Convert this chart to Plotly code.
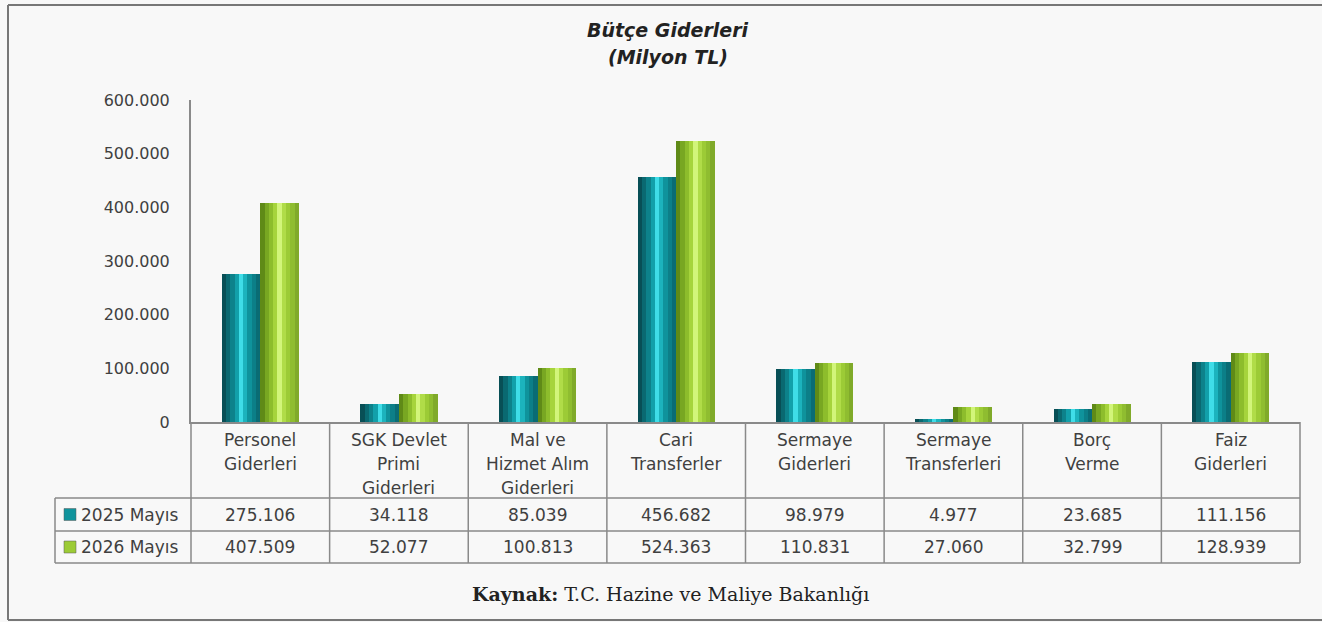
import plotly.graph_objects as go

categories = ["Personel<br>Giderleri", "SGK Devlet<br>Primi<br>Giderleri", "Mal ve<br>Hizmet Alım<br>Giderleri",
              "Cari<br>Transferler", "Sermaye<br>Giderleri", "Sermaye<br>Transferleri", "Borç<br>Verme", "Faiz<br>Giderleri"]
series_names = ["2025 Mayıs", "2026 Mayıs"]
values_2025 = [275106, 34118, 85039, 456682, 98979, 4977, 23685, 111156]
values_2026 = [407509, 52077, 100813, 524363, 110831, 27060, 32799, 128939]
y_ticks = [0, 100000, 200000, 300000, 400000, 500000, 600000]

W, H = 1322, 622
PL, PR, PT, PB = 191, 1300, 100, 422


def px(x):
    return (x - PL) / (PR - PL)


def py(y):
    return (PB - y) / (PB - PT)


def fmt(v):
    return f"{v:,}".replace(",", ".")


teal_profile = ["#084f56", "#0a6971", "#0d828b", "#12a0aa", "#3fdde8", "#1cb3bd", "#0f939c", "#0c7f88", "#0a6c74"]
green_profile = ["#5f8a17", "#78a722", "#8dbd2c", "#a6d43c", "#d2f57a", "#b0dc48", "#9ccb36", "#8fbd30", "#80aa2a"]

fig = go.Figure()
x = list(range(len(categories)))
bar_w = 0.278
n = len(teal_profile)
for vals, prof, off in [(values_2025, teal_profile, -bar_w), (values_2026, green_profile, 0.0)]:
    sw = bar_w / n
    for i, c in enumerate(prof):
        fig.add_trace(go.Bar(
            x=x, y=vals, width=sw * 1.02, offset=off + i * sw,
            marker=dict(color=c, line=dict(width=0)),
            showlegend=False, hoverinfo="skip"))

font_main = "DejaVu Sans"
tcol = "#404040"
lc = "#8a8a8a"
shapes = []
ann = []

# table grid
row_tops = [422, 498, 531, 563]
for yv in row_tops[1:]:
    shapes.append(dict(type="line", xref="paper", yref="paper", x0=px(55), x1=px(1300), y0=py(yv), y1=py(yv),
                       line=dict(color=lc, width=1.5)))
col_w = (PR - PL) / len(categories)
for k in range(len(categories) + 1):
    xv = PL + k * col_w
    shapes.append(dict(type="line", xref="paper", yref="paper", x0=px(xv), x1=px(xv), y0=py(422), y1=py(563),
                       line=dict(color=lc, width=1.5)))
shapes.append(dict(type="line", xref="paper", yref="paper", x0=px(55), x1=px(55), y0=py(498), y1=py(563),
                   line=dict(color=lc, width=1.5)))
# outer border
shapes.append(dict(type="line", xref="paper", yref="paper", x0=px(8), x1=px(1322), y0=py(5), y1=py(5),
                   line=dict(color="#777777", width=2)))
shapes.append(dict(type="line", xref="paper", yref="paper", x0=px(8), x1=px(8), y0=py(5), y1=py(620),
                   line=dict(color="#777777", width=2)))
shapes.append(dict(type="line", xref="paper", yref="paper", x0=px(8), x1=px(1322), y0=py(620), y1=py(620),
                   line=dict(color="#777777", width=2)))

# category labels
for k, cat in enumerate(categories):
    cx = PL + (k + 0.5) * col_w
    for j, line in enumerate(cat.split("<br>")):
        ann.append(dict(xref="paper", yref="paper", x=px(cx), y=py(440 + j * 24), text=line, showarrow=False,
                        xanchor="center", yanchor="middle", font=dict(family=font_main, size=17, color=tcol)))

# values rows
for r, (vals, col) in enumerate([(values_2025, "#10939c"), (values_2026, "#9ccb36")]):
    yc = 514.5 + r * 32.5
    for k, v in enumerate(vals):
        cx = PL + (k + 0.5) * col_w
        ann.append(dict(xref="paper", yref="paper", x=px(cx), y=py(yc), text=fmt(v), showarrow=False,
                        xanchor="center", yanchor="middle", font=dict(family=font_main, size=17, color=tcol)))
    shapes.append(dict(type="rect", xref="paper", yref="paper", x0=px(64), x1=px(76), y0=py(yc - 6), y1=py(yc + 6),
                       fillcolor=col, line=dict(color="#5a5a5a", width=0.5)))
    ann.append(dict(xref="paper", yref="paper", x=px(79), y=py(yc), text=series_names[r], showarrow=False,
                    xanchor="left", yanchor="middle", font=dict(family=font_main, size=17, color=tcol)))

# title
ann.append(dict(xref="paper", yref="paper", x=px(668), y=py(30), text="<b><i>Bütçe Giderleri</i></b>", showarrow=False,
                xanchor="center", yanchor="middle", font=dict(family=font_main, size=19, color="#222222")))
ann.append(dict(xref="paper", yref="paper", x=px(668), y=py(57), text="<b><i>(Milyon TL)</i></b>", showarrow=False,
                xanchor="center", yanchor="middle", font=dict(family=font_main, size=19, color="#222222")))
# source
ann.append(dict(xref="paper", yref="paper", x=px(670), y=py(594),
                text="<b>Kaynak:</b> T.C. Hazine ve Maliye Bakanlığı", showarrow=False,
                xanchor="center", yanchor="middle", font=dict(family="DejaVu Serif", size=19, color="#222222")))

fig.update_layout(
    width=W, height=H,
    margin=dict(l=PL, r=W - PR, t=PT, b=H - PB, pad=0),
    paper_bgcolor="#f8f8f8", plot_bgcolor="#f8f8f8",
    barmode="overlay", bargap=0,
    separators=",.",
    shapes=shapes, annotations=ann,
    xaxis=dict(range=[-0.5, len(categories) - 0.5], showticklabels=False, showgrid=False, zeroline=False,
               showline=True, linecolor=lc, linewidth=2, ticks=""),
    yaxis=dict(range=[0, 600000], tickvals=y_ticks, tickformat=",d", showgrid=False, zeroline=False,
               showline=True, linecolor=lc, linewidth=2, ticks="", ticklabelstandoff=16,
               tickfont=dict(family=font_main, size=16, color=tcol)),
    showlegend=False,
)

fig.write_html("out.html", config={"displayModeBar": False},
               post_script="document.body.style.margin='0';document.body.style.overflow='hidden';")
